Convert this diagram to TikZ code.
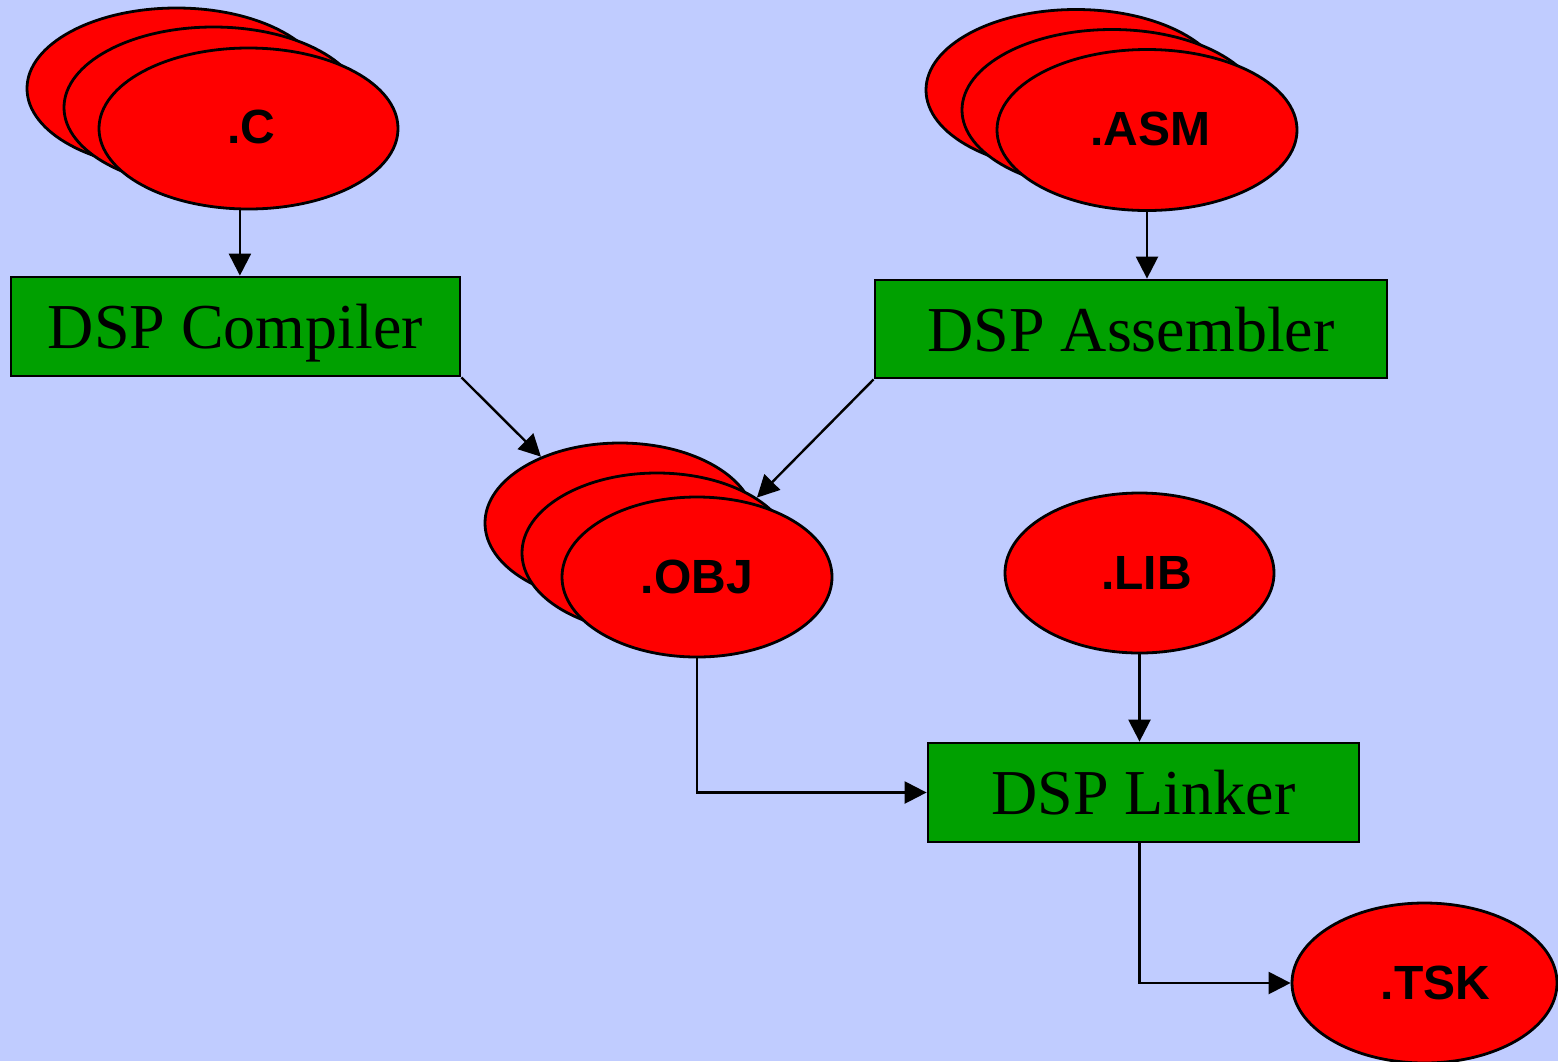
\documentclass[tikz,border=0pt]{standalone}
\usepackage{fontspec}
\setmainfont{Liberation Serif}
\newfontfamily\labelfont{Liberation Sans}
\usetikzlibrary{arrows.meta,shapes.geometric,calc}
\definecolor{bgblue}{RGB}{192,204,255}
\definecolor{boxgreen}{RGB}{0,160,0}
\definecolor{filered}{RGB}{255,0,0}
\tikzset{
  file/.style={ellipse, draw=black, line width=2.8pt, fill=filered,
    inner sep=0pt, font=\labelfont\bfseries\fontsize{48}{56}\selectfont},
  tool/.style={rectangle, draw=black, line width=2.8pt, fill=boxgreen,
    inner sep=0pt, text depth=0pt, font=\fontsize{64}{72}\selectfont},
  arr/.style={draw=black, line width=2.4pt,
    -{Triangle[length=22pt,width=22pt]}}
}
\begin{document}
\begin{tikzpicture}[x=1pt,y=-1pt]
\useasboundingbox (0,0) rectangle (1558,1061);
\fill[bgblue] (0,0) rectangle (1558,1061);

% C sources
\node[file, minimum width=299pt, minimum height=161pt] (c1) at (176.5,88.5) {};
\node[file, minimum width=299pt, minimum height=161pt] (c2) at (213.5,107.5) {};
\node[file, minimum width=299pt, minimum height=161pt] (c3) at (248.5,128.5) {\hspace*{6pt}\raisebox{3pt}{.C}};

% assembly sources
\node[file, minimum width=300pt, minimum height=161pt] (a1) at (1076,90) {};
\node[file, minimum width=300pt, minimum height=161pt] (a2) at (1112,110) {};
\node[file, minimum width=300pt, minimum height=161pt] (a3) at (1147,130) {\hspace*{6pt}\raisebox{3pt}{.ASM}};

% tools
\node[tool, minimum width=449pt, minimum height=99pt] (comp) at (235.5,326.5) {DSP Compiler};
\node[tool, minimum width=512pt, minimum height=98pt] (asm) at (1131,329) {DSP Assembler};

% object files
\node[file, minimum width=270pt, minimum height=160pt] (o1) at (620,523) {};
\node[file, minimum width=270pt, minimum height=160pt] (o2) at (657,553) {};
\node[file, minimum width=270pt, minimum height=160pt] (o3) at (697,577) {.OBJ};

% library
\node[file, minimum width=269pt, minimum height=160pt] (lib) at (1139.5,573) {\hspace*{14pt}.LIB};

% linker and output
\node[tool, minimum width=431pt, minimum height=99pt] (link) at (1143.5,792.5) {DSP Linker};
\node[file, minimum width=265pt, minimum height=160pt] (tsk) at (1424.5,983) {\hspace*{22pt}.TSK};

% connectors
\draw[arr] (c3.264) -- (c3.264 |- comp.north);
\draw[arr] (a3.south) -- (a3.south |- asm.north);
\draw[arr] (comp.south east) -- (o1.140);
\draw[arr] (asm.south west) -- (o2.29);
\draw[arr] (lib.south) -- (lib.south |- link.north);
\draw[arr] (o3.south) |- (link.west);
\draw[arr] (link.south -| lib.south) |- (tsk.west);
\end{tikzpicture}
\end{document}
